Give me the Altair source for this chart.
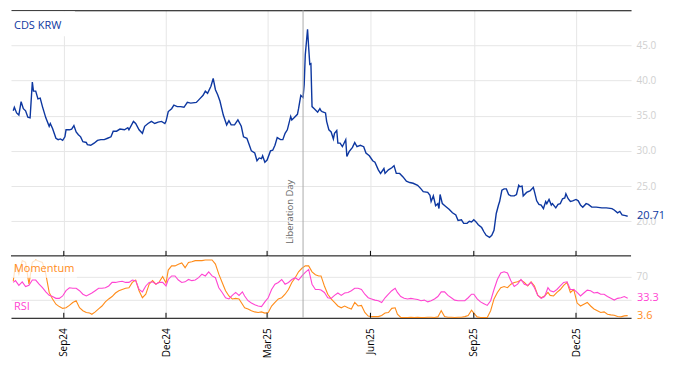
import altair as alt
import pandas as pd

# ---------------- data ----------------
cds_points = [
    ("2024-07-18", 35.7), ("2024-07-19", 36.2), ("2024-07-21", 35.4), ("2024-07-23", 35.1),
    ("2024-07-25", 37.0), ("2024-07-27", 36.0), ("2024-07-29", 35.7), ("2024-07-31", 34.8),
    ("2024-08-02", 34.7), ("2024-08-04", 39.8), ("2024-08-05", 38.5), ("2024-08-07", 38.5),
    ("2024-08-09", 37.4), ("2024-08-11", 37.5), ("2024-08-13", 36.3), ("2024-08-16", 34.7),
    ("2024-08-19", 33.5), ("2024-08-20", 33.9), ("2024-08-22", 33.2), ("2024-08-25", 31.8),
    ("2024-08-27", 31.6), ("2024-08-29", 31.7), ("2024-08-31", 31.5), ("2024-09-02", 32.0),
    ("2024-09-03", 33.0), ("2024-09-06", 33.0), ("2024-09-08", 33.1), ("2024-09-10", 33.6),
    ("2024-09-12", 32.7), ("2024-09-14", 32.3), ("2024-09-16", 32.0), ("2024-09-18", 31.3),
    ("2024-09-21", 31.2), ("2024-09-22", 30.9), ("2024-09-25", 30.8), ("2024-09-28", 31.1),
    ("2024-10-01", 31.5), ("2024-10-04", 31.6), ("2024-10-07", 31.6), ("2024-10-10", 31.8),
    ("2024-10-13", 32.0), ("2024-10-15", 32.8), ("2024-10-18", 32.8), ("2024-10-21", 33.1),
    ("2024-10-25", 33.0), ("2024-10-28", 33.3), ("2024-10-29", 33.0), ("2024-11-02", 34.2),
    ("2024-11-04", 33.9), ("2024-11-07", 33.0), ("2024-11-10", 32.5), ("2024-11-12", 33.5),
    ("2024-11-15", 33.9), ("2024-11-18", 34.2), ("2024-11-21", 33.9), ("2024-11-24", 34.1),
    ("2024-11-27", 34.2), ("2024-11-30", 33.9), ("2024-12-01", 34.2), ("2024-12-03", 35.6),
    ("2024-12-06", 36.0), ("2024-12-08", 36.5), ("2024-12-11", 36.3), ("2024-12-14", 36.3),
    ("2024-12-17", 36.2), ("2024-12-20", 36.9), ("2024-12-23", 36.8), ("2024-12-28", 36.9),
    ("2024-12-31", 37.4), ("2025-01-03", 37.9), ("2025-01-05", 38.5), ("2025-01-07", 38.2),
    ("2025-01-10", 39.2), ("2025-01-12", 40.3), ("2025-01-14", 38.7), ("2025-01-16", 38.0),
    ("2025-01-18", 37.1), ("2025-01-21", 35.1), ("2025-01-24", 33.7), ("2025-01-26", 34.3),
    ("2025-01-28", 33.7), ("2025-01-31", 33.7), ("2025-02-03", 34.4), ("2025-02-06", 33.5),
    ("2025-02-08", 32.0), ("2025-02-11", 31.8), ("2025-02-13", 30.9), ("2025-02-15", 30.0),
    ("2025-02-18", 29.7), ("2025-02-20", 28.6), ("2025-02-22", 29.0), ("2025-02-24", 28.9),
    ("2025-02-25", 29.3), ("2025-02-27", 28.4), ("2025-03-01", 28.7), ("2025-03-04", 30.0),
    ("2025-03-06", 30.1), ("2025-03-08", 30.8), ("2025-03-10", 31.9), ("2025-03-13", 31.6),
    ("2025-03-15", 31.6), ("2025-03-17", 32.5), ("2025-03-19", 33.0), ("2025-03-22", 34.9),
    ("2025-03-23", 34.4), ("2025-03-25", 34.7), ("2025-03-28", 35.2), ("2025-03-29", 36.0),
    ("2025-03-31", 37.9), ("2025-04-02", 37.6), ("2025-04-03", 39.4), ("2025-04-04", 43.7),
    ("2025-04-06", 47.3), ("2025-04-07", 44.7), ("2025-04-08", 42.3), ("2025-04-09", 42.4),
    ("2025-04-10", 36.3), ("2025-04-12", 36.0), ("2025-04-15", 35.5), ("2025-04-17", 36.0),
    ("2025-04-18", 35.7), ("2025-04-19", 35.6), ("2025-04-22", 35.4), ("2025-04-23", 34.2),
    ("2025-04-25", 33.0), ("2025-04-27", 32.7), ("2025-04-29", 31.7), ("2025-04-30", 32.5),
    ("2025-05-02", 32.9), ("2025-05-03", 31.1), ("2025-05-05", 31.1), ("2025-05-07", 30.6),
    ("2025-05-10", 31.6), ("2025-05-11", 29.2), ("2025-05-13", 29.9), ("2025-05-16", 30.5),
    ("2025-05-18", 31.2), ("2025-05-20", 30.6), ("2025-05-23", 30.8), ("2025-05-26", 30.6),
    ("2025-05-28", 29.7), ("2025-05-31", 29.3), ("2025-06-03", 28.6), ("2025-06-05", 28.4),
    ("2025-06-08", 27.3), ("2025-06-10", 26.8), ("2025-06-13", 27.5), ("2025-06-14", 26.8),
    ("2025-06-17", 27.3), ("2025-06-20", 27.6), ("2025-06-22", 27.9), ("2025-06-24", 26.8),
    ("2025-06-27", 26.8), ("2025-06-30", 26.3), ("2025-07-03", 25.7), ("2025-07-06", 25.5),
    ("2025-07-09", 25.4), ("2025-07-13", 25.1), ("2025-07-16", 24.6), ("2025-07-18", 24.2),
    ("2025-07-22", 24.1), ("2025-07-24", 23.7), ("2025-07-25", 22.8), ("2025-07-27", 23.6),
    ("2025-07-29", 22.2), ("2025-07-31", 22.5), ("2025-08-01", 21.8), ("2025-08-02", 23.8),
    ("2025-08-04", 22.5), ("2025-08-07", 22.1), ("2025-08-10", 21.7), ("2025-08-13", 21.2),
    ("2025-08-16", 20.9), ("2025-08-18", 20.1), ("2025-08-21", 20.2), ("2025-08-23", 19.7),
    ("2025-08-26", 19.7), ("2025-08-28", 20.0), ("2025-08-30", 19.9), ("2025-09-01", 20.2),
    ("2025-09-03", 19.9), ("2025-09-05", 19.5), ("2025-09-08", 19.1), ("2025-09-10", 18.5),
    ("2025-09-12", 18.0), ("2025-09-15", 17.7), ("2025-09-17", 18.0), ("2025-09-19", 18.7),
    ("2025-09-21", 21.1), ("2025-09-23", 22.3), ("2025-09-24", 22.8), ("2025-09-26", 24.4),
    ("2025-09-28", 24.6), ("2025-09-30", 24.6), ("2025-10-02", 23.8), ("2025-10-04", 23.6),
    ("2025-10-07", 23.6), ("2025-10-09", 23.8), ("2025-10-11", 25.1), ("2025-10-12", 24.9),
    ("2025-10-14", 25.0), ("2025-10-15", 23.6), ("2025-10-18", 24.1), ("2025-10-21", 24.3),
    ("2025-10-24", 24.8), ("2025-10-25", 24.2), ("2025-10-27", 22.9), ("2025-10-29", 22.4),
    ("2025-10-31", 22.3), ("2025-11-02", 21.8), ("2025-11-04", 22.8), ("2025-11-05", 22.5),
    ("2025-11-07", 23.1), ("2025-11-09", 22.3), ("2025-11-10", 22.5), ("2025-11-13", 21.9),
    ("2025-11-15", 22.4), ("2025-11-17", 22.5), ("2025-11-19", 23.2), ("2025-11-21", 23.3),
    ("2025-11-22", 23.9), ("2025-11-24", 23.2), ("2025-11-26", 22.8), ("2025-11-28", 22.9),
    ("2025-12-01", 23.1), ("2025-12-03", 22.9), ("2025-12-05", 22.3), ("2025-12-07", 22.0),
    ("2025-12-10", 22.5), ("2025-12-12", 22.4), ("2025-12-15", 22.0), ("2025-12-19", 22.0),
    ("2025-12-24", 21.9), ("2025-12-28", 21.9), ("2026-01-02", 21.8), ("2026-01-04", 21.6),
    ("2026-01-07", 21.2), ("2026-01-09", 21.4), ("2026-01-11", 20.9), ("2026-01-14", 20.8),
    ("2026-01-16", 20.71),
]

# oscillators, read at an even spacing from first to last observation
osc_first, osc_last = "2024-07-18", "2026-01-16"
momentum = [
    62, 91, 74, 97, 94, 57, 94, 98, 96, 94,
    74, 43, 32, 23, 19, 16, 17, 21, 26, 29,
    17, 12, 9, 8, 6, 10, 15, 20, 27, 32,
    36, 42, 46, 48, 50, 51, 60, 64, 46, 34,
    40, 57, 63, 57, 61, 70, 59, 81, 88, 88,
    91, 93, 85, 94, 95, 97, 97, 97, 98, 98,
    98, 91, 74, 60, 46, 37, 32, 33, 32, 23,
    17, 15, 12, 10, 9, 10, 8, 9, 20, 26,
    32, 34, 40, 48, 60, 68, 78, 84, 88, 88,
    78, 73, 71,
    71, 54, 40, 32, 26, 20, 17, 20, 17, 15,
    26, 20, 21, 9, 3, 2, 2, 2, 4, 8,
    9, 16, 17, 6, 0.5, 0.5, 0.5, 1, 0.5, 1,
    0.5, 0.5, 1, 1, 0.5, 1.5, 12, 2, 1, 1,
    0.5, 1, 1, 2, 4, 13, 8, 1.5, 0.5, 0.5,
    0.5, 12, 32, 43, 51, 53, 51, 57, 60, 61,
    64, 60, 54, 61, 54, 38, 34, 37, 43, 38,
    37, 43, 48, 55, 60, 43, 48, 25, 20, 23,
    26, 20, 15, 12, 9, 10, 6, 5, 4.4, 2.2,
    1.6, 3.3, 3.6,
]
rsi = [
    60, 63, 55, 61, 53, 55, 64, 64, 57, 51,
    44, 38, 36, 33, 33, 37, 46, 51, 50, 50,
    46, 40, 37, 40, 42, 46, 50, 50, 51, 54,
    60, 60, 61, 62, 60, 60, 64, 63, 48, 44,
    54, 60, 61, 57, 60, 60, 54, 65, 71, 71,
    64, 60, 61, 65, 63, 64, 68, 74, 71, 78,
    71, 68, 51, 43, 34, 32, 38, 43, 38, 44,
    37, 29, 25, 22, 20, 19, 27, 34, 48, 57,
    60, 65, 57, 60, 65, 68, 64, 71, 77, 82,
    57, 48, 48,
    47, 43, 34, 33, 38, 42, 38, 42, 43, 46,
    50, 50, 48, 40, 34, 32, 30, 29, 26, 34,
    40, 46, 50, 43, 36, 33, 32, 33, 32, 31,
    29, 30, 27, 29, 32, 36, 44, 44, 38, 34,
    30, 29, 29, 29, 34, 40, 40, 32, 27, 24,
    21, 29, 48, 65, 76, 78, 76, 63, 53, 57,
    65, 57, 55, 60, 51, 38, 33, 36, 51, 46,
    44, 48, 54, 60, 61, 48, 48, 43, 37, 42,
    47, 46, 42, 43, 40, 40, 36, 33, 30, 33,
    34, 36, 33.3,
]

quarter_dates = ["2024-09-01", "2024-12-01", "2025-03-01", "2025-06-01", "2025-09-01", "2025-12-01"]
event_date = "2025-04-02"
event_label = "Liberation Day"
top_grid_values = [20, 25, 30, 35, 40, 45]
osc_grid_values = [30, 70]

# ---------------- frames ----------------
cds_df = pd.DataFrame(cds_points, columns=["date", "value"])
osc_dates = pd.date_range(osc_first, osc_last, periods=len(momentum)).strftime("%Y-%m-%d")
osc_df = pd.concat([
    pd.DataFrame({"date": osc_dates, "series": "Momentum", "value": momentum}),
    pd.DataFrame({"date": osc_dates, "series": "RSI", "value": rsi}),
])
q_df = pd.DataFrame({"date": quarter_dates})
ev_df = pd.DataFrame({"date": [event_date], "label": [event_label]})
last_cds = cds_df.tail(1)
last_osc = pd.DataFrame({
    "series": ["Momentum", "RSI"],
    "value": [momentum[-1], rsi[-1]],
})
names_df = pd.DataFrame({"series": ["Momentum", "RSI"], "ypix": [13, 51]})
one = pd.DataFrame({"k": [0]})

# ---------------- styling ----------------
W, H_TOP, H_BOT = 621, 246, 62
BLUE = "#0d37a0"
ORANGE = "#ff8c1a"
MAGENTA = "#ff45d2"
GRID = "#e6e6e6"
LABEL_GREY = "#d0d0d0"
FONT = "Open Sans"

qvals = [alt.DateTime(year=int(d[:4]), month=int(d[5:7]), date=int(d[8:])) for d in quarter_dates]
x_scale = alt.Scale(domain=["2024-07-16", "2026-01-19"])
color_scale = alt.Scale(domain=["Momentum", "RSI"], range=[ORANGE, MAGENTA])

# ---------------- top panel ----------------
top_line = alt.Chart(cds_df).mark_line(color=BLUE, strokeWidth=1.4).encode(
    x=alt.X("date:T", scale=x_scale, title=None,
            axis=alt.Axis(orient="top", values=qvals, labels=False, ticks=False,
                          domain=True, domainColor="black", domainWidth=1,
                          grid=True, gridColor=GRID)),
    y=alt.Y("value:Q", title=None,
            scale=alt.Scale(domain=[15.07, 50], nice=False, zero=False),
            axis=alt.Axis(orient="right", values=top_grid_values, format=".1f",
                          labelColor=LABEL_GREY, labelFontSize=10, labelFont=FONT,
                          domain=False, ticks=False, labelPadding=5,
                          grid=True, gridColor=GRID)),
)
top_box = alt.Chart(one).mark_rect(color="white").encode(
    x=alt.value(0), x2=alt.value(64), y=alt.value(1), y2=alt.value(26))
top_title = alt.Chart(one).mark_text(
    text="CDS KRW", color=BLUE, fontSize=11, font=FONT, align="left", baseline="middle"
).encode(x=alt.value(3), y=alt.value(16))
top_event = alt.Chart(ev_df).mark_rule(color="#ababab", strokeWidth=1).encode(
    x=alt.X("date:T", scale=x_scale))
top_event_text = alt.Chart(ev_df).mark_text(
    angle=270, align="left", baseline="bottom", dy=-8, color="#666666",
    fontSize=9.5, font=FONT
).encode(x=alt.X("date:T", scale=x_scale), y=alt.value(H_TOP - 12), text="label:N")
top_base_line = alt.Chart(one).mark_rule(color="black", strokeWidth=1).encode(
    x=alt.value(0), x2=alt.value(W), y=alt.value(H_TOP))
top_ticks = alt.Chart(q_df).mark_rule(color="black", strokeWidth=1).encode(
    x=alt.X("date:T", scale=x_scale), y=alt.value(H_TOP - 5), y2=alt.value(H_TOP))
top_last = alt.Chart(last_cds).mark_text(
    align="left", baseline="middle", dx=6, color=BLUE, fontSize=11, font=FONT
).encode(x=alt.value(W), y=alt.Y("value:Q"), text=alt.Text("value:Q", format=".2f"))

top = alt.layer(top_line, top_box, top_title, top_event, top_event_text,
                top_base_line, top_ticks, top_last).properties(width=W, height=H_TOP)

# ---------------- bottom panel ----------------
osc_lines = alt.Chart(osc_df).mark_line(strokeWidth=1.1).encode(
    x=alt.X("date:T", scale=x_scale, title=None,
            axis=alt.Axis(orient="bottom", values=qvals, format="%b%y", labelAngle=270,
                          labelColor="black", labelFontSize=10, labelFont=FONT,
                          labelPadding=10, ticks=False, domain=True,
                          domainColor="black", domainWidth=1,
                          grid=True, gridColor=GRID)),
    y=alt.Y("value:Q", title=None,
            scale=alt.Scale(domain=[0, 105], nice=False, zero=False),
            axis=alt.Axis(orient="right", values=osc_grid_values,
                          labelExpr="datum.value == 30 ? '' : datum.label",
                          labelColor=LABEL_GREY, labelFontSize=10, labelFont=FONT,
                          domain=False, ticks=False, labelPadding=5,
                          grid=True, gridColor=GRID)),
    color=alt.Color("series:N", scale=color_scale, legend=None),
    detail="series:N",
)
bot_event = alt.Chart(ev_df).mark_rule(color="#ababab", strokeWidth=1).encode(
    x=alt.X("date:T", scale=x_scale))
bot_ticks = alt.Chart(q_df).mark_rule(color="black", strokeWidth=1).encode(
    x=alt.X("date:T", scale=x_scale), y=alt.value(H_BOT - 5), y2=alt.value(H_BOT))
bot_box = alt.Chart(one).mark_rect(color="white", opacity=0.75).encode(
    x=alt.value(0), x2=alt.value(66), y=alt.value(4), y2=alt.value(22))
bot_names = alt.Chart(names_df).mark_text(
    align="left", baseline="middle", fontSize=11, font=FONT
).encode(x=alt.value(3), y=alt.Y("ypix:Q", scale=None), text="series:N",
         color=alt.Color("series:N", scale=color_scale, legend=None))
bot_last = alt.Chart(last_osc).mark_text(
    align="left", baseline="middle", dx=6, fontSize=11, font=FONT
).encode(x=alt.value(W), y=alt.Y("value:Q"),
         text=alt.Text("value:Q", format=".1f"),
         color=alt.Color("series:N", scale=color_scale, legend=None))

bottom = alt.layer(osc_lines, bot_event, bot_ticks, bot_box, bot_names, bot_last
                   ).properties(width=W, height=H_BOT)

chart = alt.vconcat(top, bottom, spacing=0, bounds="flush").properties(
    padding={"left": 2, "top": 1, "right": 0, "bottom": 0}
).configure_view(stroke=None).configure_axis(labelFont=FONT)

chart.save("out.html", embed_options={"renderer": "svg", "actions": False})
